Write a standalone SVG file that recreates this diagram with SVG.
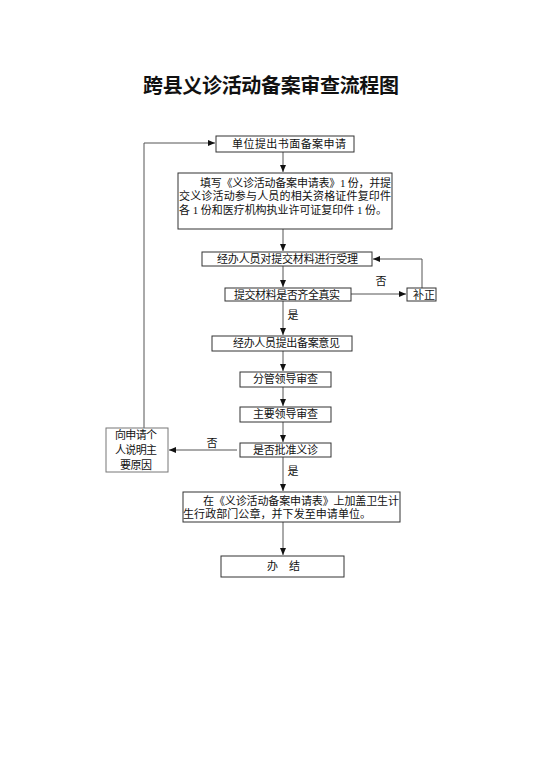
<svg xmlns="http://www.w3.org/2000/svg" width="542" height="768" viewBox="0 0 542 768">
<style>
.t{font-family:"Liberation Serif","Noto Sans CJK SC",serif;font-size:11px;fill:#111}
.c{text-anchor:middle}
.b{fill:#fff;stroke:#333;stroke-width:1}
.g{fill:#fff;stroke:#777;stroke-width:1}
.l{fill:none;stroke:#555;stroke-width:1}
</style>
<defs>
<marker id="a" markerWidth="8" markerHeight="8" refX="7" refY="4" orient="auto" markerUnits="userSpaceOnUse">
<path d="M0,1 L7,4 L0,7 Z" fill="#111"/>
</marker>
</defs>
<rect width="542" height="768" fill="#fff"/>
<text x="271" y="93" text-anchor="middle" style="font-family:'Noto Sans CJK SC',sans-serif;font-size:20px;font-weight:bold;fill:#111" textLength="256">跨县义诊活动备案审查流程图</text>

<g id="connectors">
<path class="l" d="M144,430 V143 H215" marker-end="url(#a)"/>
<path class="l" d="M283,152 V172" marker-end="url(#a)"/>
<path class="l" d="M283,229 V251" marker-end="url(#a)"/>
<path class="l" d="M283,265 V287" marker-end="url(#a)"/>
<path class="l" d="M351,294 H406" marker-end="url(#a)"/>
<path class="l" d="M422,288 V259 H373" marker-end="url(#a)"/>
<path class="l" d="M283,301 V335" marker-end="url(#a)"/>
<path class="l" d="M283,351 V371" marker-end="url(#a)"/>
<path class="l" d="M283,387 V406" marker-end="url(#a)"/>
<path class="l" d="M283,422 V442" marker-end="url(#a)"/>
<path class="l" d="M237,450 H169" marker-end="url(#a)"/>
<path class="l" d="M283,457 V491" marker-end="url(#a)"/>
<path class="l" d="M283,522 V555" marker-end="url(#a)"/>
<text class="t c" x="381" y="285">否</text>
<text class="t c" x="293" y="319">是</text>
<text class="t c" x="212" y="447">否</text>
<text class="t c" x="293" y="475">是</text>
</g>

<g id="n1">
<rect class="b" x="216" y="136" width="138" height="16"/>
<text class="t" x="232" y="148" textLength="114">单位提出书面备案申请</text>
</g>
<g id="n2">
<rect class="b" x="178" y="173" width="214" height="56"/>
<text class="t" x="200" y="187" textLength="191">填写《义诊活动备案申请表》1 份，并提</text>
<text class="t" x="179" y="200" textLength="212">交义诊活动参与人员的相关资格证件复印件</text>
<text class="t" x="179" y="214" textLength="208">各 1 份和医疗机构执业许可证复印件 1 份。</text>
</g>
<g id="n3">
<rect class="b" x="202" y="252" width="170" height="14"/>
<text class="t" x="217" y="263" textLength="141">经办人员对提交材料进行受理</text>
</g>
<g id="n4">
<rect class="b" x="225" y="288" width="126" height="13"/>
<text class="t" x="234" y="299" textLength="106">提交材料是否齐全真实</text>
</g>
<g id="n5">
<rect class="b" x="407" y="288" width="29" height="13"/>
<text class="t" x="413" y="299" textLength="22">补正</text>
</g>
<g id="n6">
<rect class="b" x="212" y="336" width="140" height="15"/>
<text class="t" x="233" y="347" textLength="107">经办人员提出备案意见</text>
</g>
<g id="n7">
<rect class="b" x="240" y="372" width="91" height="15"/>
<text class="t" x="253" y="383" textLength="65">分管领导审查</text>
</g>
<g id="n8">
<rect class="b" x="240" y="407" width="91" height="15"/>
<text class="t" x="253" y="418" textLength="65">主要领导审查</text>
</g>
<g id="n9">
<rect class="b" x="240" y="443" width="91" height="14"/>
<text class="t" x="253" y="454" textLength="65">是否批准义诊</text>
</g>
<g id="n10">
<rect class="g" x="106" y="428" width="62" height="44"/>
<text class="t" x="115" y="439" textLength="42">向申请个</text>
<text class="t" x="115" y="454" textLength="42">人说明主</text>
<text class="t" x="120" y="469" textLength="32">要原因</text>
</g>
<g id="n11">
<rect class="b" x="183" y="492" width="217" height="30"/>
<text class="t" x="203" y="505" textLength="196">在《义诊活动备案申请表》上加盖卫生计</text>
<text class="t" x="183" y="518" textLength="188">生行政部门公章，并下发至申请单位。</text>
</g>
<g id="n12">
<rect class="b" x="221" y="556" width="123" height="21"/>
<text class="t" x="267" y="570">办</text>
<text class="t" x="289" y="570">结</text>
</g>
</svg>
